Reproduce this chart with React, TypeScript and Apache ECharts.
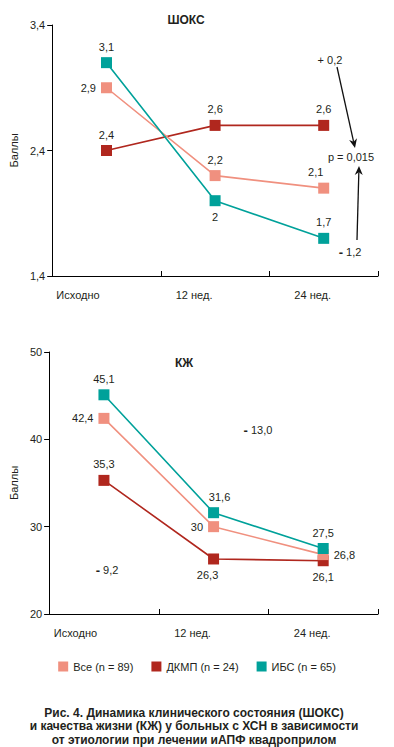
import React, { useEffect, useRef } from "react";
import * as echarts from "echarts";

const categories = ["Исходно", "12 нед.", "24 нед."];
const seriesNames = ["Все (n = 89)", "ДКМП (n = 24)", "ИБС (n = 65)"];

const shoksAll = [2.9, 2.2, 2.1];
const shoksDkmp = [2.4, 2.6, 2.6];
const shoksIbs = [3.1, 2.0, 1.7];

const qolAll = [42.4, 30, 26.8];
const qolDkmp = [35.3, 26.3, 26.1];
const qolIbs = [45.1, 31.6, 27.5];

const shoksAxis = { min: 1.4, max: 3.4, interval: 1 };
const qolAxis = { min: 20, max: 50, interval: 10 };

const COLORS = ["#F0907F", "#B0271E", "#00A19A"];
const FONT = "Liberation Sans, Arial, sans-serif";
const TXT = "#231f20";

const fmt = (v: number) => String(v).replace(".", ",");

type Place = { position: string; offset?: number[] };

function buildData(values: number[], places: Place[]) {
  return values.map((v, i) => ({
    value: v,
    label: { position: places[i].position, offset: places[i].offset || [0, 0] },
  }));
}

function makeSeries(
  name: string,
  values: number[],
  places: Place[],
  color: string,
  idx: number,
  z: number
) {
  return {
    name,
    type: "line",
    xAxisIndex: idx,
    yAxisIndex: idx,
    data: buildData(values, places),
    symbol: "rect",
    symbolSize: 11,
    z,
    itemStyle: { color, opacity: 1 },
    lineStyle: { color, width: 1.6 },
    label: {
      show: true,
      color: TXT,
      fontSize: 11,
      fontFamily: FONT,
      distance: 5,
      formatter: (p: any) => fmt(p.value),
    },
    emphasis: { disabled: true },
  };
}

export default function App() {
  const ref = useRef<HTMLDivElement>(null);

  useEffect(() => {
    if (!ref.current) return;
    const chart = echarts.init(ref.current, undefined, { renderer: "svg" });

    const xAxisBase = (gridIndex: number) => ({
      type: "category",
      gridIndex,
      data: categories,
      boundaryGap: true,
      axisLine: { lineStyle: { color: "#000", width: 1 } },
      axisTick: { show: true, inside: true, length: 5, lineStyle: { color: "#000" } },
      axisLabel: {
        color: TXT,
        fontSize: 11,
        fontFamily: FONT,
        margin: 13,
        formatter: (v: string) => {
          const i = categories.indexOf(v);
          return `{c${i}|${v}}`;
        },
        rich: {
          c0: { fontSize: 11, fontFamily: FONT, color: TXT, padding: [0, 57, 0, 0] },
          c1: { fontSize: 11, fontFamily: FONT, color: TXT, padding: [0, 42, 0, 0] },
          c2: { fontSize: 11, fontFamily: FONT, color: TXT, padding: [0, 22, 0, 0] },
        },
      },
      splitLine: { show: false },
    });

    const yAxisBase = (gridIndex: number, ax: any, decimals: number) => ({
      type: "value",
      gridIndex,
      min: ax.min,
      max: ax.max,
      interval: ax.interval,
      name: "Баллы",
      nameLocation: "middle",
      nameGap: 27,
      nameTextStyle: { color: TXT, fontSize: 11, fontFamily: FONT },
      axisLine: { show: true, lineStyle: { color: "#000", width: 1 } },
      axisTick: { show: true, length: 5, lineStyle: { color: "#000" } },
      axisLabel: {
        color: TXT,
        fontSize: 11,
        fontFamily: FONT,
        margin: 7,
        formatter: (v: number) => v.toFixed(decimals).replace(".", ","),
      },
      splitLine: { show: false },
    });

    const arrowLine = (x1: number, y1: number, x2: number, y2: number) => {
      const dx = x2 - x1;
      const dy = y2 - y1;
      const len = Math.sqrt(dx * dx + dy * dy);
      const ux = dx / len;
      const uy = dy / len;
      const hl = 9;
      const hw = 4;
      const bx = x2 - ux * hl;
      const by = y2 - uy * hl;
      const px = -uy * hw;
      const py = ux * hw;
      const mx = x2 - ux * hl * 0.7;
      const my = y2 - uy * hl * 0.7;
      return [
        {
          type: "line",
          shape: { x1, y1, x2: mx, y2: my },
          style: { stroke: "#111", lineWidth: 1.3 },
        },
        {
          type: "polygon",
          shape: {
            points: [
              [x2, y2],
              [bx + px, by + py],
              [mx, my],
              [bx - px, by - py],
            ],
          },
          style: { fill: "#111" },
        },
      ];
    };

    const textEl = (text: string, x: number, y: number, extra: any = {}) => ({
      type: "text",
      x,
      y,
      style: {
        text,
        fill: TXT,
        fontSize: 11,
        fontFamily: FONT,
        align: "center",
        verticalAlign: "middle",
        ...extra,
      },
    });

    const option: any = {
      animation: false,
      backgroundColor: "#fff",
      color: COLORS,
      grid: [
        { left: 40, top: 25, width: 338, height: 251 },
        { left: 40, top: 352, width: 338, height: 262 },
      ],
      xAxis: [xAxisBase(0), xAxisBase(1)],
      yAxis: [yAxisBase(0, shoksAxis, 1), yAxisBase(1, qolAxis, 0)],
      legend: {
        data: seriesNames,
        top: 656,
        left: "center",
        icon: "rect",
        itemWidth: 10,
        itemHeight: 10,
        itemGap: 18,
        textStyle: { color: TXT, fontSize: 11, fontFamily: FONT },
        selectedMode: false,
      },
      series: [
        makeSeries(seriesNames[0], shoksAll, [
          { position: "left" },
          { position: "top" },
          { position: "top", offset: [-8, 0] },
        ], COLORS[0], 0, 3),
        makeSeries(seriesNames[1], shoksDkmp, [
          { position: "top" },
          { position: "top" },
          { position: "top" },
        ], COLORS[1], 0, 2),
        makeSeries(seriesNames[2], shoksIbs, [
          { position: "top" },
          { position: "bottom" },
          { position: "top" },
        ], COLORS[2], 0, 4),
        makeSeries(seriesNames[0], qolAll, [
          { position: "left" },
          { position: "left" },
          { position: "right" },
        ], COLORS[0], 1, 3),
        makeSeries(seriesNames[1], qolDkmp, [
          { position: "top" },
          { position: "bottom", offset: [-6, 0] },
          { position: "bottom" },
        ], COLORS[1], 1, 2),
        makeSeries(seriesNames[2], qolIbs, [
          { position: "top" },
          { position: "top", offset: [6, 0] },
          { position: "top" },
        ], COLORS[2], 1, 4),
      ],
      graphic: [
        textEl("ШОКС", 186, 20, { fontWeight: "bold", fontSize: 12 }),
        textEl("КЖ", 184, 363, { fontWeight: "bold", fontSize: 12 }),
        textEl("+ 0,2", 330, 60),
        textEl("p = 0,015", 351, 157),
        textEl("{b|-} 1,2", 350, 252, {
          rich: { b: { fontWeight: "bold", fontSize: 13, fontFamily: FONT, fill: TXT } },
        }),
        ...arrowLine(337, 67, 355, 148),
        ...arrowLine(357, 240, 359, 166),
        textEl("{b|-} 13,0", 258, 430, {
          rich: { b: { fontWeight: "bold", fontSize: 13, fontFamily: FONT, fill: TXT } },
        }),
        textEl("{b|-} 9,2", 107, 570, {
          rich: { b: { fontWeight: "bold", fontSize: 13, fontFamily: FONT, fill: TXT } },
        }),
        textEl(
          "Рис. 4. Динамика клинического состояния (ШОКС)\nи качества жизни (КЖ) у больных с ХСН в зависимости\nот этиологии при лечении иАПФ квадроприлом",
          194,
          726,
          { fontWeight: "bold", fontSize: 12, lineHeight: 13.5 }
        ),
      ],
    };

    chart.setOption(option);
    return () => chart.dispose();
  }, []);

  return (
    <div
      ref={ref}
      style={{ position: "fixed", left: 0, top: 0, width: 394, height: 747, background: "#fff" }}
    />
  );
}
